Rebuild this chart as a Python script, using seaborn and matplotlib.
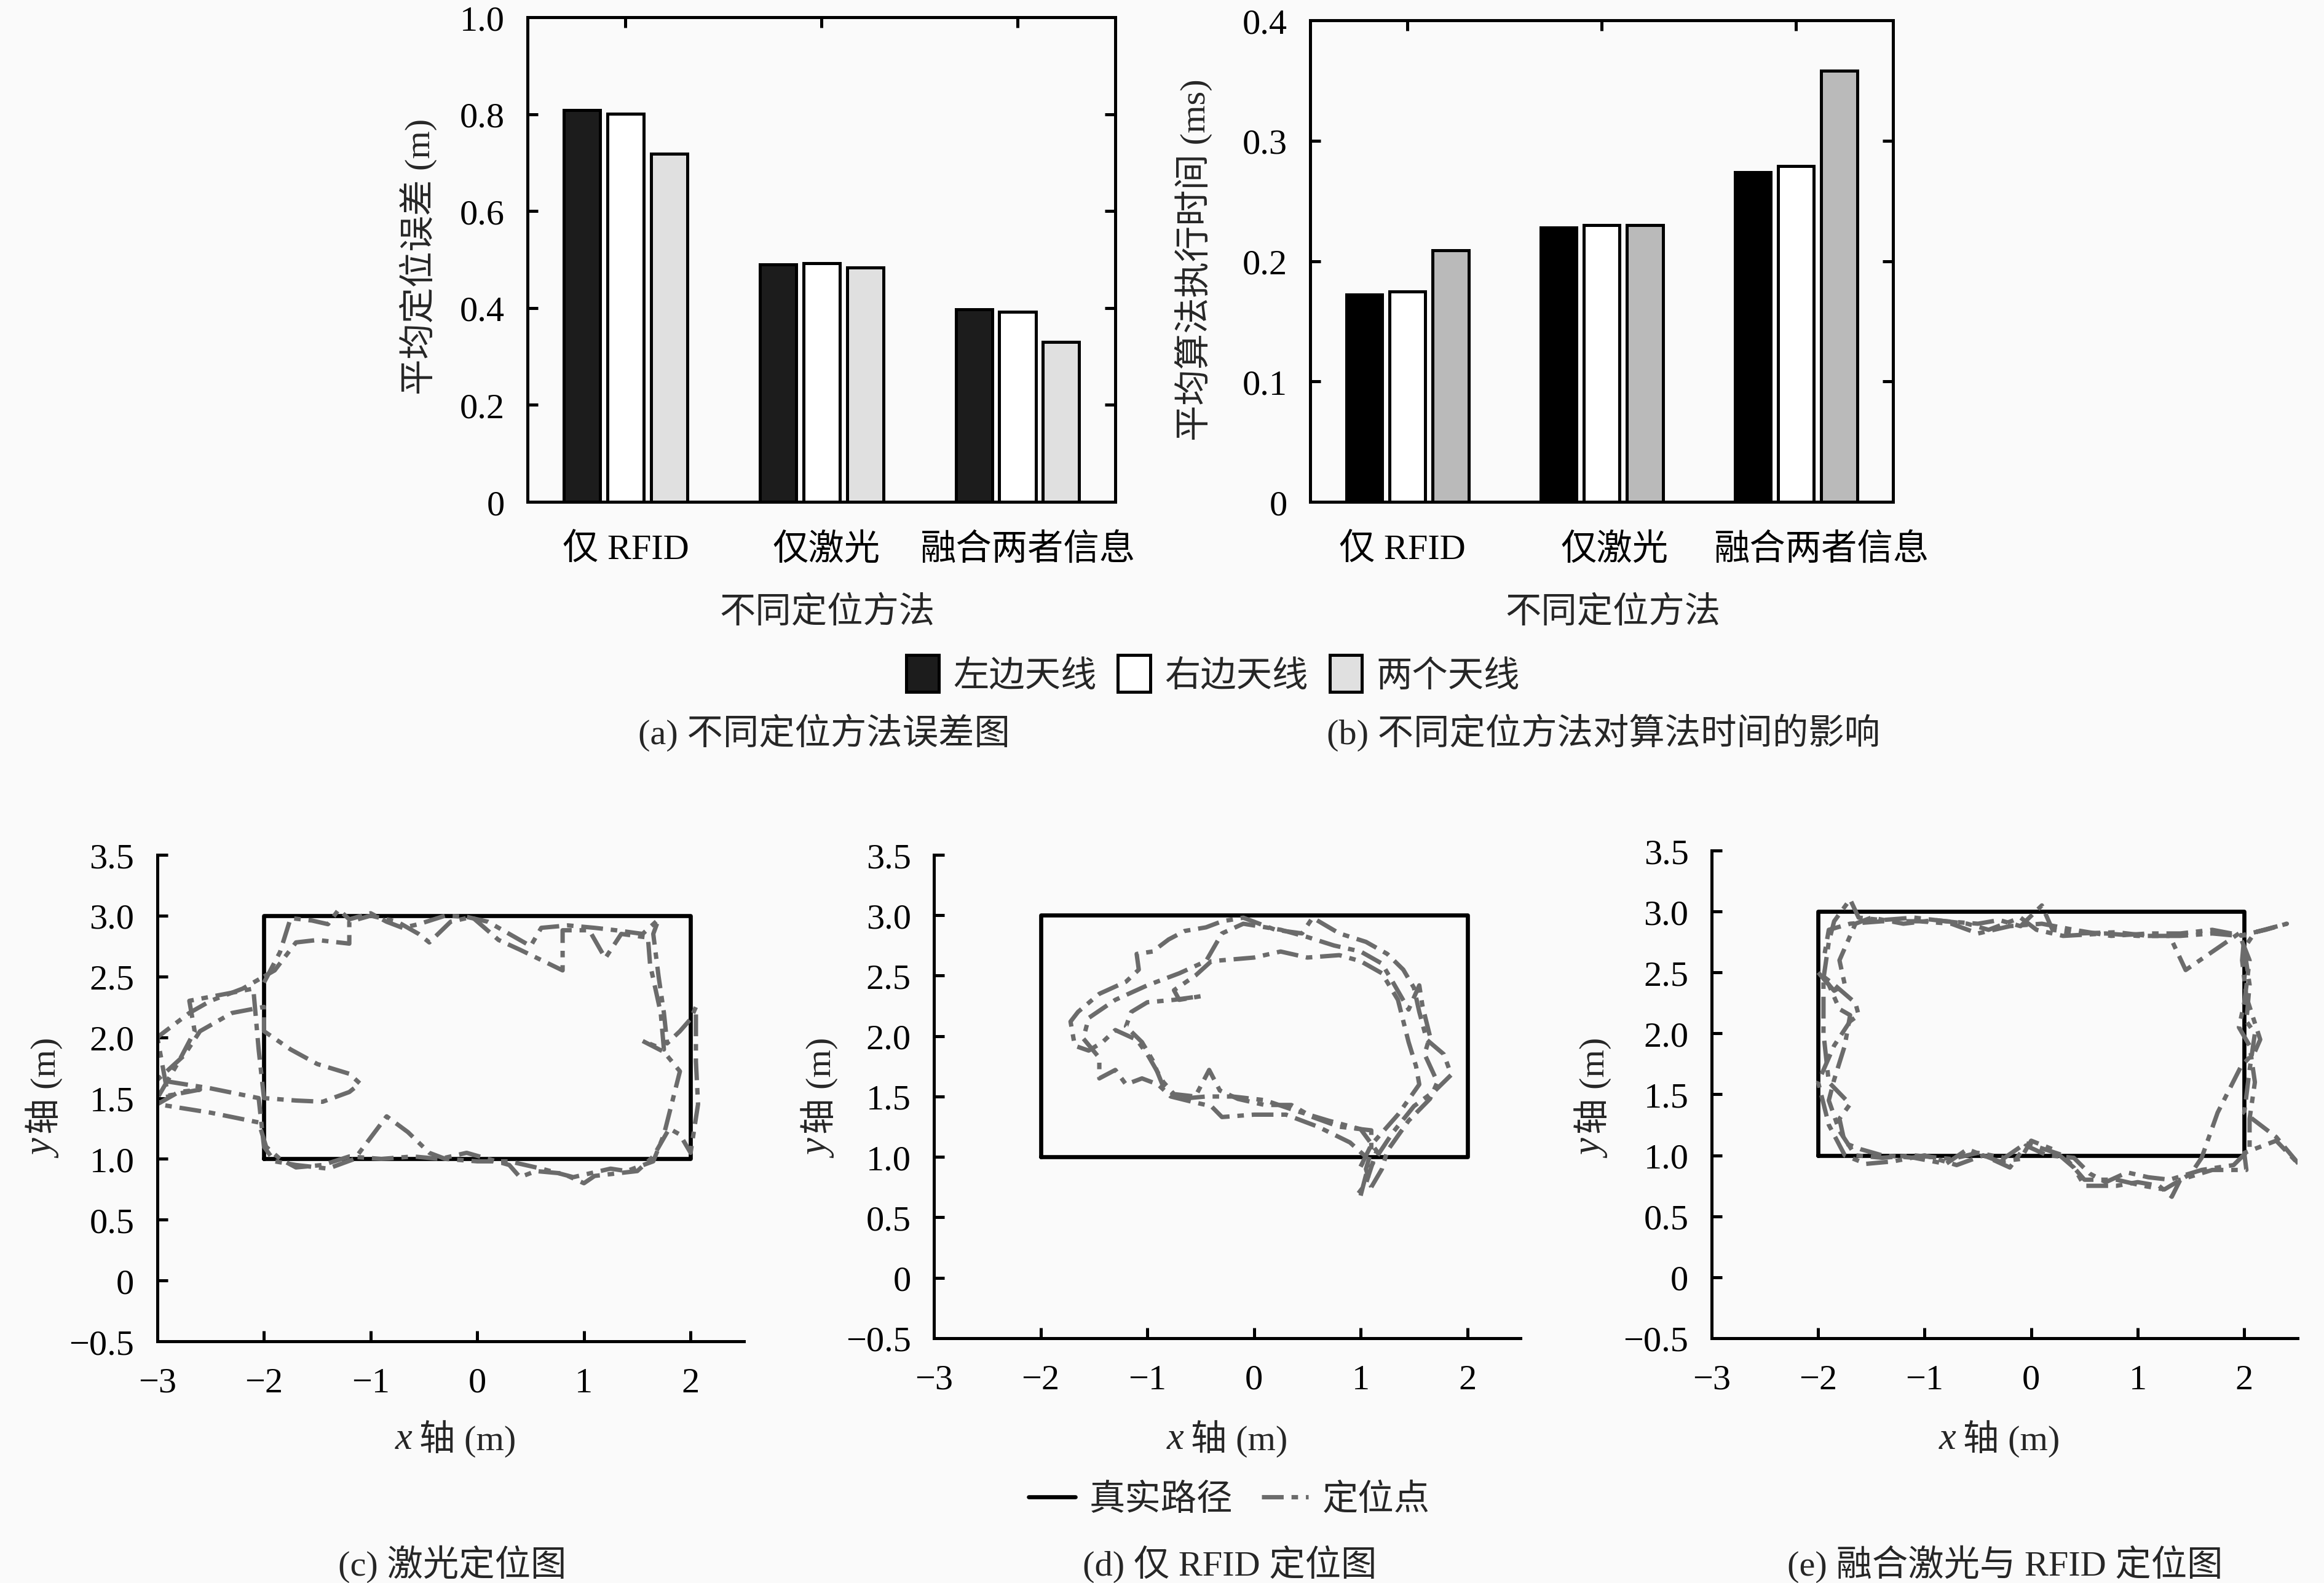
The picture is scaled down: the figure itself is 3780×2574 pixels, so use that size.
import pandas as pd
import seaborn as sns
import matplotlib.pyplot as plt
from matplotlib.patches import Patch
from matplotlib.lines import Line2D
from matplotlib.transforms import ScaledTranslation

# 柱状图数据
methods = ['仅 RFID', '仅激光', '融合两者信息']
antennas = ['左边天线', '右边天线', '两个天线']
err_left = [0.809, 0.490, 0.397]
err_right = [0.801, 0.493, 0.392]
err_both = [0.719, 0.483, 0.330]
time_left = [0.172, 0.228, 0.274]
time_right = [0.175, 0.230, 0.279]
time_both = [0.209, 0.230, 0.358]

# 真实路径
true_x = [-2, 2, 2, -2, -2]
true_y = [1, 1, 3, 3, 1]

# (c) 激光定位
laser_loop1 = [(-2.0, 2.45), (-1.85, 2.7), (-1.75, 2.98), (-1.55, 2.96), (-1.4, 2.93), (-1.3, 3.05),
               (-1.2, 2.97), (-1.0, 3.02), (-0.85, 2.95), (-0.7, 2.9), (-0.55, 2.93), (-0.3, 3.0),
               (-0.1, 2.99), (0.1, 2.95), (0.3, 2.85), (0.5, 2.75), (0.6, 2.9), (0.85, 2.92),
               (1.1, 2.9), (1.3, 2.88), (1.55, 2.85), (1.7, 2.97), (1.65, 2.85), (1.7, 2.5),
               (1.75, 2.2), (1.78, 1.95), (1.9, 2.05), (2.0, 2.15), (2.05, 2.25), (2.05, 1.8),
               (2.07, 1.45), (2.0, 1.05), (1.9, 1.2), (1.8, 1.25), (1.65, 1.02), (1.5, 0.9),
               (1.3, 0.88), (1.1, 0.86), (1.0, 0.8), (0.8, 0.88), (0.55, 0.9), (0.4, 0.85),
               (0.3, 0.95), (0.1, 1.0), (-0.1, 1.05), (-0.35, 1.0), (-0.6, 1.02), (-0.9, 1.0),
               (-1.2, 1.02), (-1.45, 0.95), (-1.7, 0.93), (-1.85, 1.0), (-1.98, 1.1), (-2.05, 1.3),
               (-2.5, 1.38), (-3.0, 1.45), (-2.8, 1.55), (-2.6, 1.57), (-2.9, 1.52), (-3.0, 2.0),
               (-2.7, 2.2), (-2.5, 2.3), (-2.2, 2.4), (-2.0, 2.5)]
laser_loop2 = [(-2.0, 2.5), (-1.9, 2.55), (-1.7, 2.78), (-1.5, 2.8), (-1.2, 2.77), (-1.2, 2.95),
               (-1.0, 3.0), (-0.75, 2.95), (-0.55, 2.85), (-0.45, 2.78), (-0.25, 2.95), (-0.05, 2.99),
               (0.2, 2.8), (0.4, 2.72), (0.8, 2.55), (0.8, 2.88), (1.05, 2.88), (1.2, 2.65),
               (1.35, 2.85), (1.6, 2.82), (1.62, 2.6), (1.72, 2.2), (1.75, 1.9), (1.55, 1.97),
               (1.75, 1.88), (1.9, 1.72), (1.75, 1.2), (1.65, 0.98), (1.4, 0.9), (1.25, 0.92),
               (0.9, 0.85), (0.6, 0.92), (0.3, 0.98), (0.0, 0.98), (-0.3, 1.0), (-0.45, 1.05),
               (-0.65, 1.22), (-0.85, 1.35), (-1.15, 1.0), (-1.4, 0.92), (-1.7, 0.95), (-1.9, 0.98),
               (-2.0, 1.1), (-2.05, 1.5), (-2.5, 1.58), (-3.0, 1.65), (-2.75, 1.85), (-2.6, 2.05),
               (-2.3, 2.2), (-2.0, 2.25), (-2.0, 2.05), (-1.75, 1.9), (-1.5, 1.78), (-1.2, 1.7),
               (-1.1, 1.62), (-1.2, 1.55), (-1.45, 1.47), (-1.7, 1.48), (-2.0, 1.5), (-2.05, 1.9),
               (-2.1, 2.4), (-2.4, 2.35), (-2.7, 2.3), (-2.65, 2.05), (-2.8, 1.8), (-3.0, 1.5)]

# (d) 仅 RFID 定位
rfid_loop1 = [(1.0, 0.68), (1.05, 0.85), (1.15, 1.0), (1.3, 1.2), (1.5, 1.42), (1.7, 1.55), (1.85, 1.68),
              (1.78, 1.85), (1.62, 1.97), (1.55, 2.2), (1.5, 2.4), (1.4, 2.55), (1.25, 2.68), (1.05, 2.78),
              (0.8, 2.85), (0.55, 2.98), (0.45, 2.85), (0.2, 2.88), (-0.1, 2.98), (-0.3, 2.95),
              (-0.45, 2.9), (-0.65, 2.87), (-0.8, 2.8), (-0.95, 2.7), (-1.1, 2.68), (-1.08, 2.55),
              (-1.2, 2.45), (-1.45, 2.35), (-1.65, 2.2), (-1.72, 2.12), (-1.68, 1.92), (-1.55, 1.88),
              (-1.42, 1.95), (-1.3, 2.05), (-1.1, 1.97), (-1.0, 1.85), (-0.85, 1.62), (-0.75, 1.52),
              (-0.55, 1.5), (-0.42, 1.72), (-0.32, 1.55), (-0.15, 1.48), (0.1, 1.43), (0.35, 1.43),
              (0.55, 1.33), (0.8, 1.25), (1.1, 1.22), (1.1, 1.05), (1.05, 0.9), (1.1, 0.75)]
rfid_loop2 = [(1.1, 0.75), (1.2, 0.9), (1.25, 1.05), (1.45, 1.3), (1.65, 1.48), (1.72, 1.62), (1.6, 1.85),
              (1.65, 2.0), (1.58, 2.25), (1.55, 2.42), (1.45, 2.22), (1.3, 2.45), (1.2, 2.6), (1.0, 2.7),
              (0.75, 2.75), (0.5, 2.82), (0.25, 2.88), (-0.1, 2.93), (-0.3, 2.85), (-0.45, 2.62),
              (-0.7, 2.52), (-1.0, 2.42), (-1.3, 2.3), (-1.55, 2.15), (-1.6, 1.98), (-1.45, 1.82),
              (-1.45, 1.65), (-1.3, 1.72), (-1.2, 1.6), (-1.05, 1.65), (-0.9, 1.6), (-0.78, 1.5),
              (-0.55, 1.45), (-0.4, 1.42), (-0.3, 1.33), (0.0, 1.35), (0.3, 1.35), (0.6, 1.25),
              (0.9, 1.12), (1.05, 1.0), (1.0, 0.92)]
rfid_loop3 = [(1.0, 0.92), (1.1, 1.1), (1.35, 1.35), (1.55, 1.6), (1.52, 1.75), (1.45, 1.95), (1.35, 2.3),
              (1.2, 2.52), (1.0, 2.62), (0.8, 2.67), (0.5, 2.65), (0.25, 2.7), (0.0, 2.65), (-0.4, 2.62),
              (-0.55, 2.5), (-0.75, 2.38), (-0.7, 2.3), (-0.5, 2.33), (-0.75, 2.3), (-1.0, 2.28),
              (-1.15, 2.2), (-1.2, 2.08), (-1.05, 1.95), (-0.95, 1.8), (-0.85, 1.58), (-0.7, 1.48),
              (-0.45, 1.5), (-0.2, 1.5), (0.1, 1.47), (0.4, 1.38), (0.7, 1.3), (1.0, 1.23),
              (1.15, 1.05), (1.05, 0.78), (0.98, 0.7)]

# (e) 融合激光与 RFID 定位
fuse_loop1 = [(-1.95, 2.45), (-1.9, 2.75), (-1.85, 2.92), (-1.7, 3.1), (-1.62, 2.95), (-1.4, 2.93),
              (-1.1, 2.95), (-0.8, 2.92), (-0.5, 2.9), (-0.3, 2.93), (-0.1, 2.88), (0.1, 3.05),
              (0.2, 2.85), (0.45, 2.82), (0.8, 2.83), (1.1, 2.8), (1.4, 2.8), (1.7, 2.82), (1.95, 2.8),
              (2.2, 2.85), (2.4, 2.9), (2.1, 2.83), (2.0, 2.7), (2.05, 2.4), (2.02, 2.1), (2.1, 2.0),
              (2.05, 1.7), (2.0, 1.35), (2.3, 1.15), (2.52, 0.92), (2.3, 1.12), (2.0, 1.02),
              (2.02, 0.88), (1.7, 0.88), (1.4, 0.8), (1.32, 0.66), (1.2, 0.75), (1.0, 0.78),
              (0.8, 0.75), (0.5, 0.75), (0.4, 0.9), (0.2, 1.05), (0.0, 1.12), (-0.1, 0.97),
              (-0.3, 0.95), (-0.6, 1.05), (-0.8, 0.93), (-1.1, 0.98), (-1.4, 1.0), (-1.6, 1.05),
              (-1.75, 1.1), (-1.8, 1.3), (-1.7, 1.42), (-1.9, 1.6), (-1.95, 2.0), (-1.95, 2.45)]
fuse_loop2 = [(-1.95, 2.45), (-1.85, 2.35), (-1.75, 2.4), (-1.8, 2.6), (-1.65, 2.9), (-1.5, 2.95),
              (-1.2, 2.9), (-0.9, 2.93), (-0.6, 2.9), (-0.4, 2.85), (-0.1, 2.95), (0.05, 2.85),
              (0.3, 2.8), (0.7, 2.82), (1.0, 2.8), (1.3, 2.8), (1.45, 2.52), (1.75, 2.7), (1.95, 2.82),
              (2.05, 2.6), (2.0, 2.25), (1.95, 2.05), (2.05, 1.9), (2.1, 1.6), (2.05, 1.3), (2.05, 1.05),
              (1.9, 0.92), (1.6, 0.88), (1.3, 0.8), (1.1, 0.82), (0.9, 0.86), (0.7, 0.78), (0.55, 0.85),
              (0.4, 0.98), (0.15, 1.0), (-0.05, 1.08), (-0.2, 0.9), (-0.45, 1.0), (-0.7, 0.92),
              (-1.0, 1.0), (-1.3, 0.95), (-1.55, 0.93), (-1.75, 1.0), (-1.9, 1.25), (-2.0, 1.6),
              (-1.85, 1.9), (-1.7, 2.1), (-1.62, 2.15), (-1.65, 2.25), (-1.85, 2.4), (-2.0, 2.5)]
fuse_loop3 = [(-2.0, 2.5), (-1.9, 2.4), (-1.8, 2.2), (-1.7, 2.15), (-1.75, 1.9), (-1.85, 1.62),
              (-1.9, 1.45), (-1.8, 1.2), (-1.65, 1.0), (-1.4, 0.98), (-1.1, 1.0), (-0.75, 0.97),
              (-0.5, 1.02), (-0.25, 0.98), (-0.05, 1.1), (0.3, 1.0), (0.5, 0.8), (0.8, 0.8),
              (1.05, 0.75), (1.25, 0.72), (1.5, 0.85), (1.6, 0.98), (1.75, 1.35), (1.97, 1.73),
              (2.1, 1.85), (2.15, 1.95), (2.02, 2.3), (1.98, 2.6), (2.0, 2.8), (1.7, 2.85), (1.4, 2.82),
              (1.1, 2.82), (0.75, 2.8), (0.4, 2.85), (0.1, 2.9), (-0.2, 2.88), (-0.5, 2.82),
              (-0.75, 2.9), (-1.05, 2.92), (-1.4, 2.92), (-1.7, 2.9), (-1.9, 2.85), (-1.95, 2.6)]

BG = '#fafafa'
FS = 14
TRAJ_COLOR = '#6b6b6b'
TRAJ_STYLE = (0, (5, 1.8, 1.5, 1.8))

sns.set_theme(style='ticks')
plt.rcParams['font.family'] = ['Liberation Serif', 'Noto Sans CJK SC']
plt.rcParams['axes.unicode_minus'] = True


def bar_frame(left, right, both):
    rows = []
    for i, m in enumerate(methods):
        for a, vals in zip(antennas, [left, right, both]):
            rows.append({'method': m, 'antenna': a, 'value': vals[i]})
    return pd.DataFrame(rows)


def path_frame(loops):
    rows = []
    for k, loop in enumerate(loops):
        for x, y in loop:
            rows.append({'x': x, 'y': y, 'loop': k})
    return pd.DataFrame(rows)


def draw_bars(ax, df, colors, yticks, ylabels, shifts):
    sns.barplot(data=df, x='method', y='value', hue='antenna', palette=colors,
                width=0.667, gap=0.167, edgecolor='black', linewidth=1.2,
                errorbar=None, legend=False, ax=ax)
    ax.set_xlim(-0.5, 2.5)
    ax.set_ylim(yticks[0], yticks[-1])
    ax.set_yticks(yticks, ylabels)
    ax.set_xlabel('')
    ax.set_ylabel('')
    ax.set_facecolor(BG)
    for s in ax.spines.values():
        s.set_linewidth(1.2)
        s.set_color('black')
    ax.tick_params(axis='both', direction='in', top=True, right=True, length=4,
                   width=1.2, labelsize=FS, colors='black')
    ax.tick_params(axis='x', pad=12)
    ax.tick_params(axis='y', pad=9)
    # 参考图中类别标签略微偏右
    for lab, dx in zip(ax.get_xticklabels(), shifts):
        lab.set_transform(lab.get_transform() + ScaledTranslation(dx / 72, 0, fig.dpi_scale_trans))


def draw_track(ax, loops):
    df_true = pd.DataFrame({'x': true_x, 'y': true_y})
    sns.lineplot(data=df_true, x='x', y='y', sort=False, estimator=None,
                 color='black', lw=1.6, ax=ax)
    df = path_frame(loops)
    sns.lineplot(data=df, x='x', y='y', units='loop', estimator=None, sort=False,
                 color=TRAJ_COLOR, lw=1.7, linestyle=TRAJ_STYLE, ax=ax)
    ax.set_xlim(-3, 2.5)
    ax.set_ylim(-0.5, 3.5)
    ax.set_xticks([-3, -2, -1, 0, 1, 2], ['−3', '−2', '−1', '0', '1', '2'])
    ax.set_yticks([-0.5, 0, 0.5, 1, 1.5, 2, 2.5, 3, 3.5],
                  ['−0.5', '0', '0.5', '1.0', '1.5', '2.0', '2.5', '3.0', '3.5'])
    ax.set_xlabel('')
    ax.set_ylabel('')
    ax.set_facecolor(BG)
    ax.spines['top'].set_visible(False)
    ax.spines['right'].set_visible(False)
    for s in ['left', 'bottom']:
        ax.spines[s].set_linewidth(1.2)
        ax.spines[s].set_color('black')
    ax.tick_params(axis='both', direction='in', length=4, width=1.2,
                   labelsize=FS, colors='black')
    ax.tick_params(axis='x', pad=10)
    ax.tick_params(axis='y', pad=9)


fig = plt.figure(figsize=(12.6, 8.5833), dpi=300, facecolor=BG)

ax_a = fig.add_axes([0.227, 0.6827, 0.253, 0.306])
ax_b = fig.add_axes([0.5638, 0.6827, 0.2508, 0.304])
ax_c = fig.add_axes([0.0677, 0.1526, 0.2524, 0.3072])
ax_d = fig.add_axes([0.4019, 0.1546, 0.2524, 0.3052])
ax_e = fig.add_axes([0.7365, 0.1546, 0.2521, 0.3079])

colors_a = ['#1c1c1c', '#ffffff', '#e0e0e0']
colors_b = ['#000000', '#ffffff', '#bababa']
draw_bars(ax_a, bar_frame(err_left, err_right, err_both), colors_a,
          [0, 0.2, 0.4, 0.6, 0.8, 1.0], ['0', '0.2', '0.4', '0.6', '0.8', '1.0'], [0, 2, 4])
draw_bars(ax_b, bar_frame(time_left, time_right, time_both), colors_b,
          [0, 0.1, 0.2, 0.3, 0.4], ['0', '0.1', '0.2', '0.3', '0.4'], [-2, 5, 10])

draw_track(ax_c, [laser_loop1, laser_loop2])
draw_track(ax_d, [rfid_loop1, rfid_loop2, rfid_loop3])
draw_track(ax_e, [fuse_loop1, fuse_loop2, fuse_loop3])

# 坐标轴标题
fig.text(0.180, 0.838, '平均定位误差 (m)', rotation=90, ha='center', va='center', fontsize=FS)
fig.text(0.5135, 0.836, '平均算法执行时间 (ms)', rotation=90, ha='center', va='center', fontsize=FS)
fig.text(0.356, 0.613, '不同定位方法', ha='center', va='center', fontsize=FS)
fig.text(0.694, 0.613, '不同定位方法', ha='center', va='center', fontsize=FS)
# y 轴 (m)：斜体字母与中文分开写
for xc in [0.0191, 0.3527, 0.6856]:
    fig.text(xc, 0.2795, 'y', rotation=90, ha='center', va='top', fontsize=FS + 1,
             style='italic')
    fig.text(xc, 0.2840, '轴 (m)', rotation=90, ha='center', va='bottom', fontsize=FS)
for xc in [0.1958, 0.528, 0.8603]:
    yc = 0.0909
    fig.text(xc - 0.0185, yc, 'x', ha='right', va='center', fontsize=FS + 1, style='italic')
    fig.text(xc - 0.0155, yc, '轴 (m)', ha='left', va='center', fontsize=FS)

# 图例
bar_handles = [Patch(facecolor=c, edgecolor='black', linewidth=1.2) for c in colors_a]
fig.legend(bar_handles, antennas, loc='center', bbox_to_anchor=(0.522, 0.574), ncol=3,
           frameon=False, fontsize=FS, handlelength=0.9, handleheight=1.2,
           handletextpad=0.4, columnspacing=0.6)
line_handles = [Line2D([], [], color='black', lw=1.6),
                Line2D([], [], color=TRAJ_COLOR, lw=1.7, linestyle=TRAJ_STYLE)]
fig.legend(line_handles, ['真实路径', '定位点'], loc='center', bbox_to_anchor=(0.529, 0.0524),
           ncol=2, frameon=False, fontsize=FS, handlelength=1.3,
           handletextpad=0.4, columnspacing=0.8)

# 子图标题
fig.text(0.3545, 0.5375, '(a) 不同定位方法误差图', ha='center', va='center', fontsize=FS)
fig.text(0.690, 0.5375, '(b) 不同定位方法对算法时间的影响', ha='center', va='center', fontsize=FS)
fig.text(0.1947, 0.0124, '(c) 激光定位图', ha='center', va='center', fontsize=FS)
fig.text(0.5291, 0.0124, '(d) 仅 RFID 定位图', ha='center', va='center', fontsize=FS)
fig.text(0.8627, 0.0124, '(e) 融合激光与 RFID 定位图', ha='center', va='center', fontsize=FS)

fig.savefig('out.png', dpi=300, facecolor=BG)
